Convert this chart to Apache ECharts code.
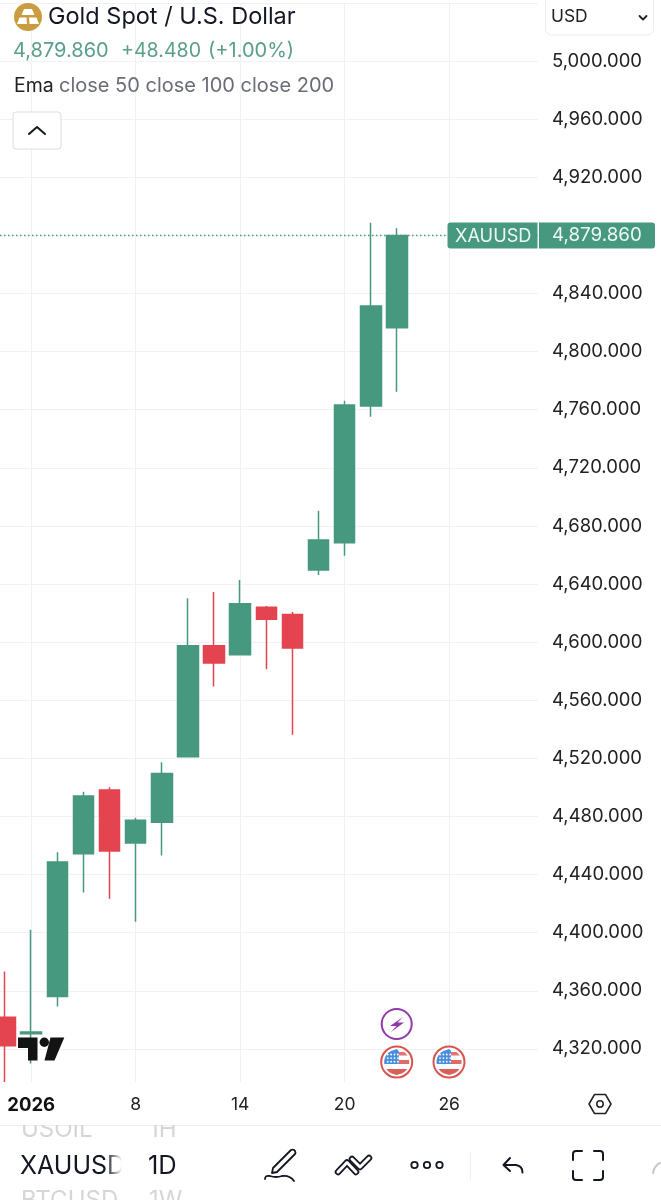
<!DOCTYPE html>
<html style="height: 100%">
<head>
<meta charset="utf-8">
<style>body { margin: 0; background: #fff; } #container { width: 661px; height: 1200px; }</style>
</head>
<body>
<div id="container"></div>
<script src="https://cdn.jsdelivr.net/npm/echarts@6/dist/echarts.min.js"></script>
<script type="text/javascript">
// trading days, last bars are the empty space on the right
var days = ['31','2026','2','5','7','8','9','12','13','14','15','16','19','20','21','22','23','26','27','28','29'];
var labelled = [1, 5, 9, 13, 17];
var opens  = [4341.8,4330.4,4356.0,4454.4,4498.3,4461.8,4476.0,4521.2,4597.6,4591.4,4624.0,4619.0,4649.7,4668.5,4762.6,4816.5];
var closes = [4322.1,4331.7,4448.7,4494.1,4456.3,4477.4,4509.5,4597.6,4585.7,4626.5,4615.8,4596.0,4670.3,4763.2,4831.4,4879.86];
var lows   = [4290.0,4310.0,4349.1,4427.6,4423.3,4407.6,4453.1,4521.2,4569.4,4591.4,4581.4,4536.3,4646.2,4659.5,4755.2,4772.4];
var highs  = [4373.2,4402.0,4455.4,4497.1,4500.1,4479.2,4517.3,4630.2,4634.5,4642.8,4624.9,4620.8,4690.5,4766.2,4888.7,4884.9];
var lastPrice = 4879.86;
var priceMin = 4280, priceMax = 5040, priceStep = 40;

var UP = '#46987f', DOWN = '#e3444f', FONT = 'Inter, "Noto Sans", sans-serif';
var candles = [];
for (var i = 0; i < opens.length; i++) {
    candles.push([opens[i], closes[i], lows[i], highs[i]]);
}
function fmt(v) {
    return v.toLocaleString('en-US', {minimumFractionDigits: 3, maximumFractionDigits: 3});
}
function isLabelled(index) {
    return labelled.indexOf(index) >= 0;
}

var chart = echarts.init(document.getElementById('container'));
chart.setOption({
    animation: false,
    backgroundColor: '#fff',
    grid: {left: -8, top: 3, width: 548.6, height: 1104, outerBoundsMode: 'none'},
    xAxis: [{
        type: 'category', data: days, z: 0,
        axisLine: {show: false}, axisTick: {show: false}, axisLabel: {show: false},
        splitLine: {show: true, alignWithLabel: true, interval: isLabelled, lineStyle: {color: '#f0f1f3', width: 1}}
    }, {
        type: 'category', data: days, z: 11, position: 'bottom',
        axisLine: {show: false}, axisTick: {show: false}, splitLine: {show: false},
        axisLabel: {
            interval: isLabelled, margin: -11, fontFamily: FONT, fontSize: 17.5, color: '#222',
            formatter: function (v) { return v === '2026' ? '{b|2026}' : v; },
            rich: {b: {fontFamily: FONT, fontSize: 18.5, fontWeight: 'bold', color: '#111'}}
        }
    }],
    yAxis: [{
        type: 'value', position: 'right', min: priceMin, max: priceMax, interval: priceStep, z: 0,
        axisLine: {show: false}, axisTick: {show: false}, axisLabel: {show: false},
        splitLine: {lineStyle: {color: '#f0f1f3', width: 1}}
    }, {
        type: 'value', position: 'right', min: priceMin, max: priceMax, interval: priceStep, z: 11,
        axisLine: {show: false}, axisTick: {show: false}, splitLine: {show: false},
        axisLabel: {
            margin: 11.4, fontFamily: FONT, fontSize: 18.5, color: '#222', align: 'left',
            formatter: function (v) { return v === priceMin || v === priceMax ? '' : fmt(v); }
        }
    }],
    series: [{
        type: 'candlestick', data: candles, barWidth: 21, z: 2,
        itemStyle: {color: UP, color0: DOWN, borderColor: UP, borderColor0: DOWN, borderWidth: 1.5},
        markLine: {
            silent: true, symbol: 'none', label: {show: false},
            lineStyle: {color: UP, type: [1.5, 2.5], width: 1.3},
            data: [{yAxis: lastPrice}]
        }
    }]
});

// pixel helpers for the overlay (header, tag, toolbar)
function text(x, y, s, size, color, extra) {
    var st = {x: 0, y: 0, text: s, fontFamily: FONT, fontSize: size, fill: color, verticalAlign: 'middle'};
    for (var k in extra) st[k] = extra[k];
    return {type: 'text', x: x, y: y, z: 12, style: st};
}
function rect(x, y, w, h, fill, r, stroke, z) {
    return {type: 'rect', z: z || 12, shape: {x: x, y: y, width: w, height: h, r: r || 0},
        style: {fill: fill, stroke: stroke || null, lineWidth: 1}};
}
// the graphic component has no svg path element, so each icon gets its own shape class
var iconCount = 0;
function path(d, stroke, lw, fill) {
    var name = 'icon' + (iconCount++);
    echarts.graphic.registerShape(name, echarts.graphic.extendPath(d, {}));
    return {type: name, z: 12,
        style: {fill: fill || 'none', stroke: stroke || null, lineWidth: lw || 0, lineCap: 'round', lineJoin: 'round'}};
}
function circle(cx, cy, r, fill, stroke, lw) {
    return {type: 'circle', z: 12, shape: {cx: cx, cy: cy, r: r},
        style: {fill: fill, stroke: stroke || null, lineWidth: lw || 0}};
}
// part of a disc limited by a box, used for the flag badges
function discPart(cx, cy, r, x0, x1, y0, y1, fill) {
    var left = [], right = [];
    for (var y = y0; y <= y1 + 0.01; y += (y1 - y0) / 8) {
        var half = Math.sqrt(Math.max(r * r - y * y, 0));
        left.unshift([cx + Math.max(x0, -half), cy + y]);
        right.push([cx + Math.min(x1, half), cy + y]);
    }
    return {type: 'polygon', z: 12, shape: {points: right.concat(left)}, style: {fill: fill}};
}
function flag(cx, cy) {
    var g = [circle(cx, cy, 15.5, '#fff', '#d9534f', 2)];
    g.push(discPart(cx, cy, 12.5, 1, 13, -10, -6.5, '#e57373'));
    g.push(discPart(cx, cy, 12.5, 2, 13, -2, 2, '#dd6b66'));
    g.push(discPart(cx, cy, 12.5, -13, 13, 7, 13, '#d9605a'));
    g.push(discPart(cx, cy, 12.5, -13, 2, -13, 2, '#4a8fdc'));
    for (var a = 0; a < 4; a++) for (var b = 0; b < 3; b++) {
        g.push(circle(cx - 9 + a * 3.4, cy - 7.5 + b * 3.6, 0.9, '#fff'));
    }
    return g;
}

var tagY = chart.convertToPixel({yAxisIndex: 0}, lastPrice);
var g = [
    // masks: price column and time strip sit outside the pane
    rect(538, 0, 123, 1200, '#fff', 0, null, 6),
    rect(0, 1082, 661, 118, '#fff', 0, null, 6),
    // last price tag
    rect(447.5, tagY - 13, 90, 26, UP, [3, 0, 0, 3]),
    rect(539, tagY - 13, 116, 26, UP, [0, 3, 3, 0]),
    text(455, tagY + 1, 'XAUUSD', 18.2, '#eef7f4'),
    text(552, tagY, fmt(lastPrice), 18.8, '#eef7f4'),
    // header
    circle(28, 17, 14, '#cb9c3f'),
    path('M24 9 L32 9 L34.5 15 L21.5 15 Z M17 24 L19.5 17.5 L26.5 17.5 L27 24 Z M29 17.5 L36.5 17.5 L39 24 L29.5 24 Z', null, 0, '#fff'),
    text(48, 17, 'Gold Spot / U.S. Dollar', 23.5, '#131722'),
    text(13, 51, '4,879.860', 20, '#5a9f8b'),
    text(121, 51, '+48.480', 19.6, '#5a9f8b'),
    text(208, 51, '(+1.00%)', 20, '#5a9f8b'),
    text(14, 86, 'Ema', 19.5, '#222'),
    text(59, 86, 'close 50 close 100 close 200', 20, '#6a6d78'),
    rect(13, 112, 48, 37, '#fff', 3, '#dcdcdc'),
    path('M29 134 L37 127 L45 134', '#131722', 2),
    // currency box
    rect(545.5, -6, 108, 41, '#fff', 6, '#ececec'),
    text(551, 17, 'USD', 17.4, '#222'),
    path('M639.5 16 L643 19.5 L646.5 16', '#222', 1.8),
    // TradingView logo
    path('M18 1037.5 H37.5 V1060.5 H28 V1048 H18 Z', null, 0, '#131313'),
    circle(44.3, 1042.3, 4.7, '#131313'),
    path('M50.5 1037.5 H64.3 L54.5 1060.5 H44.5 Z', null, 0, '#131313'),
    // event badges
    circle(396.7, 1024, 15, '#fff', '#8e3aa8', 2),
    path('M403 1017 L390 1026 L396.5 1026 L391 1032 L404 1022.5 L397.5 1022.5 Z', null, 0, '#8e3aa8')
].concat(flag(396.7, 1062), flag(449, 1062), [
    // settings + separators
    path('M589 1104 L594.5 1094.5 L605.5 1094.5 L611 1104 L605.5 1113.5 L594.5 1113.5 Z', '#222', 1.5),
    circle(600, 1104, 3.2, '#fff', '#222', 1.5),
    rect(0, 1125, 661, 1, '#eeeeee'),
    // symbol / interval pickers
    text(21, 1130, 'USOIL', 24, '#d6d6d6'),
    text(149, 1130, '1H', 24, '#d6d6d6'),
    rect(0, 1116, 330, 9, '#fff', 0, null, 13),
    text(20, 1166, 'XAUUSD', 25, '#131722'),
    {type: 'rect', z: 12, shape: {x: 106, y: 1150, width: 20, height: 30},
        style: {fill: {type: 'linear', x: 0, y: 0, x2: 1, y2: 0, colorStops: [{offset: 0, color: 'rgba(255,255,255,0)'}, {offset: 0.8, color: '#fff'}, {offset: 1, color: '#fff'}]}}},
    text(148, 1166, '1D', 25.5, '#131722'),
    text(21, 1201, 'BTCUSD', 24, '#d6d6d6'),
    text(149, 1201, '1W', 24, '#d6d6d6'),
    // toolbar
    path('M273 1168 L291 1150 Q294 1149 295 1151 Q296 1153 295 1154 L277 1172 L272 1173 Z M265 1179 Q265 1175 270 1176 Q276 1178 282 1176 Q290 1175 294 1181', '#131722', 1.8),
    path('M338 1172 L347 1162.5 L356 1172', '#131722', 6.5),
    path('M338 1172 L347 1162.5 L356 1172', '#fff', 3),
    path('M352 1159 L360 1167 L369 1158', '#131722', 6.5),
    path('M352 1159 L360 1167 L369 1158', '#fff', 3),
    circle(414.5, 1165, 3.2, '#fff', '#131722', 1.8),
    circle(427, 1165, 3.2, '#fff', '#131722', 1.8),
    circle(439.5, 1165, 3.2, '#fff', '#131722', 1.8),
    rect(470, 1151, 1, 29, '#f0f0f0'),
    path('M510 1158 L503.5 1165 L510 1171 M504 1165 L516 1165 Q522.5 1166 522.5 1172.5', '#131722', 2),
    path('M573 1160 V1154 Q573 1151 576 1151 H582 M594 1151 H600 Q603 1151 603 1154 V1160 M603 1171 V1177 Q603 1180 600 1180 H594 M582 1180 H576 Q573 1180 573 1177 V1171', '#131722', 2),
    path('M653 1173 Q654 1166 660 1163', '#c8c8c8', 2)
]);
chart.setOption({graphic: g});
</script>
</body>
</html>
